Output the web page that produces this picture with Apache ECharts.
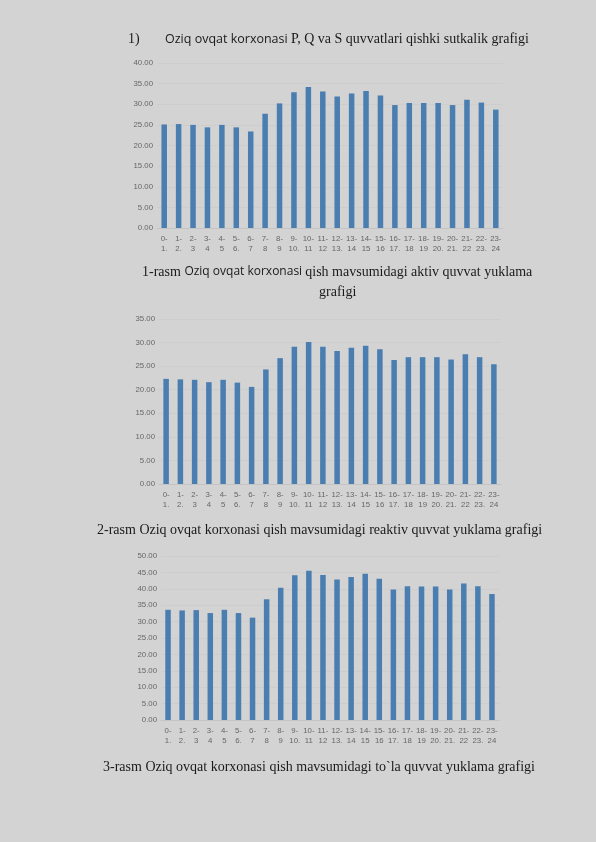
<!DOCTYPE html>
<html><head><meta charset="utf-8">
<script src="https://cdn.jsdelivr.net/npm/echarts@6/dist/echarts.min.js"></script>
<style>html,body{margin:0;padding:0;background:#d3d3d3;}#c{width:596px;height:842px;}</style>
</head><body><div id="c"></div>
<script>
const hours = ["0-\n1.","1-\n2.","2-\n3","3-\n4","4-\n5","5-\n6.","6-\n7","7-\n8","8-\n9","9-\n10.","10-\n11","11-\n12","12-\n13.","13-\n14","14-\n15","15-\n16","16-\n17.","17-\n18","18-\n19","19-\n20.","20-\n21.","21-\n22","22-\n23.","23-\n24"];
const activeP = [25.1,25.2,25.0,24.4,25.0,24.4,23.4,27.7,30.2,32.9,34.2,33.1,31.9,32.6,33.2,32.1,29.8,30.3,30.3,30.3,29.8,31.1,30.4,28.7];
const reactiveQ = [22.3,22.2,22.1,21.6,22.1,21.5,20.6,24.3,26.7,29.1,30.1,29.1,28.2,28.9,29.3,28.6,26.3,26.9,26.9,26.9,26.4,27.5,26.9,25.4];
const fullS = [33.6,33.4,33.5,32.6,33.6,32.6,31.2,36.8,40.3,44.1,45.5,44.2,42.8,43.6,44.6,43.1,39.8,40.8,40.7,40.7,39.8,41.6,40.8,38.4];
const yMax = [40, 35, 50];

const chart = echarts.init(document.getElementById('c'), null, {renderer:'canvas'});
const grids = [
  {left:157, top:63, width:346, height:165},
  {left:159, top:319, width:342, height:165},
  {left:161, top:556, width:338, height:164}
];
const series = [activeP, reactiveQ, fullS];
const labelStyle = {color:'#666666', fontSize:7.8, fontFamily:'Liberation Sans'};
const serif = 'Liberation Serif';
const sans = '"Open Sans", "DejaVu Sans"';
chart.setOption({
  backgroundColor:'#d3d3d3',
  animation:false,
  grid: grids.map(g => Object.assign({containLabel:false, show:false}, g)),
  xAxis: grids.map((g,i) => ({
    type:'category', gridIndex:i, data:hours,
    axisLine:{show:true, lineStyle:{color:'#c4c4c4'}},
    axisTick:{show:false},
    axisLabel:Object.assign({interval:0, margin:6, lineHeight:10}, labelStyle)
  })),
  yAxis: grids.map((g,i) => ({
    type:'value', gridIndex:i, min:0, max:yMax[i], interval:5,
    axisLine:{show:false}, axisTick:{show:false},
    splitLine:{show:true, lineStyle:{color:'#cdcdcd'}},
    axisLabel:Object.assign({margin:4, formatter:v => v.toFixed(2)}, labelStyle)
  })),
  series: series.map((d,i) => ({
    type:'bar', xAxisIndex:i, yAxisIndex:i, data:d, barWidth:5.5,
    itemStyle:{color:'#4a7db0'}
  })),
  graphic: [
    {type:'text', left:128, top:32, style:{text:'1)', font:'14px '+serif, fill:'#1a1a1a'}},
    {type:'text', left:165, top:32, style:{
      text:'{a|Oziq ovqat korxonasi }{b|P, Q va S quvvatlari qishki sutkalik grafigi}',
      rich:{a:{fontFamily:sans, fontSize:12.5, fill:'#1a1a1a'}, b:{fontFamily:serif, fontSize:14, fill:'#1a1a1a'}}
    }},
    {type:'text', left:142, top:265, style:{
      text:'{b|1-rasm }{a|Oziq ovqat korxonasi }{b|qish mavsumidagi aktiv quvvat yuklama}',
      rich:{a:{fontFamily:sans, fontSize:12, fill:'#1a1a1a'}, b:{fontFamily:serif, fontSize:14, fill:'#1a1a1a'}}
    }},
    {type:'text', left:319, top:285, style:{text:'grafigi', font:'14px '+serif, fill:'#1a1a1a'}},
    {type:'text', left:97, top:523, style:{text:'2-rasm Oziq ovqat korxonasi qish mavsumidagi reaktiv quvvat yuklama grafigi', font:'14px '+serif, fill:'#1a1a1a'}},
    {type:'text', left:103, top:760, style:{text:'3-rasm Oziq ovqat korxonasi qish mavsumidagi to`la quvvat yuklama grafigi', font:'14px '+serif, fill:'#1a1a1a'}}
  ]
});
</script></body></html>
